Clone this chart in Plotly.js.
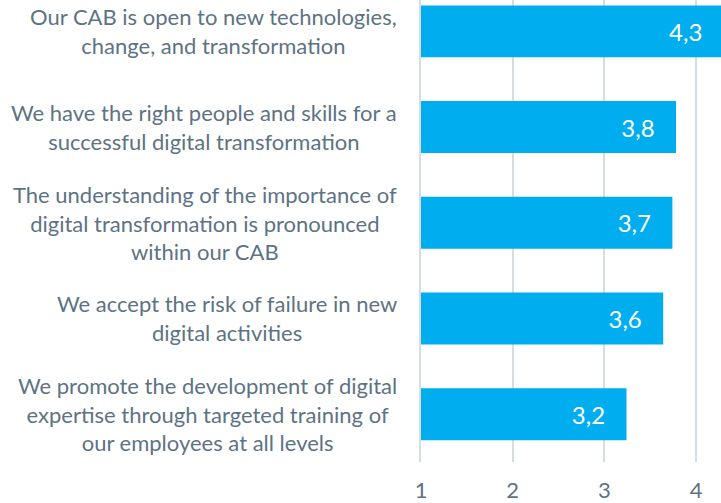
<!DOCTYPE html>
<html>
<head>
<meta charset="utf-8">
<script src="https://cdn.plot.ly/plotly-3.0.1.min.js"></script>
<style>html,body{margin:0;padding:0;background:#fff;}#chart{width:721px;height:503px;}</style>
</head>
<body>
<div id="chart"></div>
<script>
const categories = [
  "Our CAB is open to new technologies,<br>change, and transformation",
  "We have the right people and skills for a<br>successful digital transformation",
  "The understanding of the importance of<br>digital transformation is pronounced<br>within our CAB",
  "We accept the risk of failure in new<br>digital activities",
  "We promote the development of digital<br>expertise through targeted training of<br>our employees at all levels"
];
const values = [4.3, 3.78, 3.74, 3.64, 3.24];
const xTicks = [1, 2, 3, 4];

const FONT = "Lato, 'Noto Sans', sans-serif";
const LABEL = "#5d7383";

const trace = {
  type: "bar",
  orientation: "h",
  x: values,
  y: categories.map((c, i) => i),
  marker: {color: "#00AEEF"},
  texttemplate: "%{x:.1f}\u00a0\u00a0\u00a0",
  textposition: "inside",
  insidetextanchor: "end",
  textfont: {color: "#ffffff", size: 24, family: FONT},
  hoverinfo: "none"
};

const annotations = categories.map((c, i) => ({
  xref: "paper", yref: "y", x: 0, y: i,
  xanchor: "right", yanchor: "middle", xshift: -22,
  align: "center", showarrow: false, text: c,
  font: {size: 22, color: LABEL, family: FONT}
}));

const layout = {
  width: 721, height: 503,
  margin: {l: 421, r: 0, t: 0, b: 41, pad: 0},
  paper_bgcolor: "#fff", plot_bgcolor: "#fff",
  separators: ",.",
  bargap: 0.457,
  showlegend: false,
  xaxis: {
    range: [1, 4.27], tickvals: xTicks, ticktext: xTicks.map(String),
    showgrid: true, gridcolor: "#d3dde2", gridwidth: 2,
    zeroline: false, showline: false, ticks: "",
    ticklabelstandoff: 13,
    tickfont: {size: 22, color: LABEL, family: FONT}
  },
  yaxis: {
    type: "linear", range: [4.5, -0.328], showticklabels: false,
    showgrid: false, zeroline: false,
    showline: true, linecolor: "#d3dde2", linewidth: 2, ticks: ""
  },
  annotations: annotations
};

Plotly.newPlot("chart", [trace], layout, {staticPlot: true, displayModeBar: false});
</script>
</body>
</html>
